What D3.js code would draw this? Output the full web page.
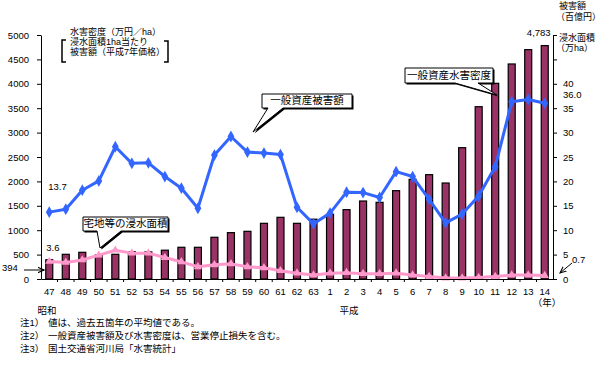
<!DOCTYPE html>
<html lang="ja">
<head>
<meta charset="UTF-8">
<title>水害密度・一般資産被害額・宅地等の浸水面積</title>
<script src="https://d3js.org/d3.v7.min.js"></script>
<style>
    body { margin: 0; background: #fff; }
    svg { font-family: "Liberation Sans", "Noto Sans CJK JP", sans-serif; font-size: 10px; }
    .axis path, .axis line { stroke: #000; }
    .axis text { font-size: 9.5px; fill: #000; }
</style>
</head>
<body>
<svg width="600" height="367"></svg>
<script>
// 年 (昭和47〜63, 平成1〜14)
const years = ["47","48","49","50","51","52","53","54","55","56","57","58","59","60","61","62","63",
               "1","2","3","4","5","6","7","8","9","10","11","12","13","14"];
// 一般資産水害密度 (万円/ha) - 棒
const density = [394,506,547,492,506,560,555,590,650,650,855,950,977,1141,1264,1141,1225,
                 1325,1421,1598,1571,1810,2042,2138,1967,2691,3531,4010,4406,4700,4783];
// 一般資産被害額 (百億円) - 青線
const damage = [13.7,14.3,18.2,20.1,27.1,23.7,23.8,21.0,18.6,14.5,25.4,29.2,26.0,25.8,25.5,14.7,11.3,
                13.5,17.8,17.7,16.7,22.0,21.0,16.3,11.5,13.3,17.0,23.0,36.3,36.8,36.0];
// 宅地等の浸水面積 (万ha) - ピンク線
const area = [3.6,3.4,3.9,4.9,5.9,5.3,5.3,4.4,3.5,2.5,2.9,3.1,2.5,2.3,1.7,1.2,0.8,
              1.2,1.3,1.1,1.1,1.2,0.8,0.5,0.2,0.2,0.3,0.5,0.8,0.8,0.7];
const leftTicks = d3.range(0, 5001, 500);
const rightTicks = d3.range(0, 51, 5);

const svg = d3.select("svg");
const plot = {left: 41, right: 553, top: 35, bottom: 279};

const x = d3.scaleBand().domain(years).range([plot.left, plot.right]);
const yL = d3.scaleLinear().domain([0, 5000]).range([plot.bottom, plot.top]);
const yR = d3.scaleLinear().domain([0, 50]).range([plot.bottom, plot.top]);
const cx = d => x(d) + x.bandwidth() / 2;

// 棒
svg.append("g").selectAll("rect")
    .data(density)
    .join("rect")
    .attr("x", (d, i) => cx(years[i]) - 3.5)
    .attr("y", d => yL(d))
    .attr("width", 7)
    .attr("height", d => yL(0) - yL(d))
    .attr("fill", "#993366")
    .attr("stroke", "#000")
    .attr("stroke-width", 1.2);

// 折れ線
function drawLine(values, color, symbol, size) {
    const line = d3.line()
        .x((d, i) => cx(years[i]))
        .y(d => yR(d));
    svg.append("path")
        .datum(values)
        .attr("d", line)
        .attr("fill", "none")
        .attr("stroke", color)
        .attr("stroke-width", 3)
        .attr("stroke-linejoin", "round");
    svg.append("g").selectAll("path")
        .data(values)
        .join("path")
        .attr("transform", (d, i) => `translate(${cx(years[i])},${yR(d)})`)
        .attr("d", d3.symbol().type(symbol).size(size))
        .attr("fill", color);
}
drawLine(area, "#ff99cc", d3.symbolTriangle, 30);
drawLine(damage, "#3366ff", d3.symbolDiamond, 40);

// 軸
svg.append("g")
    .attr("class", "axis")
    .attr("transform", `translate(${plot.left},0)`)
    .call(d3.axisLeft(yL).tickValues(leftTicks).tickSize(4).tickPadding(8).tickSizeOuter(0)
        .tickFormat(d3.format("d")));

svg.append("g")
    .attr("class", "axis")
    .attr("transform", `translate(${plot.right},0)`)
    .call(d3.axisRight(yR).tickValues(rightTicks).tickSize(4).tickPadding(6).tickSizeOuter(0)
        .tickFormat(d => d <= 40 ? d : ""));

const axB = svg.append("g")
    .attr("class", "axis")
    .attr("transform", `translate(0,${plot.bottom})`)
    .call(d3.axisBottom(x).tickSize(0).tickPadding(9));
axB.select(".domain").attr("stroke-width", 1.2);
// 区切りの小さな目盛
axB.selectAll(".sep")
    .data(years.slice(1))
    .join("line")
    .attr("class", "sep")
    .attr("x1", d => x(d)).attr("x2", d => x(d))
    .attr("y1", 0).attr("y2", 3)
    .attr("stroke", "#000");

// ラベル類
function txt(s, px, py, anchor, size) {
    return svg.append("text")
        .attr("x", px).attr("y", py)
        .attr("text-anchor", anchor || "start")
        .attr("dominant-baseline", "middle")
        .attr("font-size", (size || 9.5) + "px")
        .text(s);
}
txt("13.7", cx(years[0]) - 1, yR(damage[0]) - 25);
txt("3.6", cx(years[0]) - 3, yR(area[0]) - 13);
txt("394", 2, 268);
txt("36.0", 563, 95);
txt("0.7", 572, 260);
txt("4,783", cx(years[30]) - 6, 33, "middle");

// 矢印
svg.append("defs").append("marker")
    .attr("id", "arr").attr("viewBox", "0 0 10 10")
    .attr("refX", 9).attr("refY", 5)
    .attr("markerWidth", 7).attr("markerHeight", 7)
    .attr("orient", "auto")
    .append("path").attr("d", "M0,1L9,5L0,9").attr("fill", "none").attr("stroke", "#000").attr("stroke-width", 1.5);
svg.append("line").attr("x1", 24).attr("y1", 270).attr("x2", 44).attr("y2", 270)
    .attr("stroke", "#000").attr("marker-end", "url(#arr)");
svg.append("line").attr("x1", 572).attr("y1", 263).attr("x2", 560).attr("y2", 273)
    .attr("stroke", "#000").attr("marker-end", "url(#arr)");

// 凡例説明（左上）
txt("水害密度（万円／ha）", 70, 33, "start", 9);
txt("浸水面積1ha当たり", 70, 43, "start", 9);
txt("被害額（平成7年価格）", 70, 53, "start", 9);
svg.append("path").attr("d", "M66,40H62V62H66").attr("fill", "none").attr("stroke", "#000").attr("stroke-width", 1.5);
svg.append("path").attr("d", "M164,41H168V62H164").attr("fill", "none").attr("stroke", "#000").attr("stroke-width", 1.5);

// 右上の単位
txt("被害額", 559, 7, "start", 9);
txt("（百億円）", 556, 18, "start", 9);
txt("浸水面積", 559, 39, "start", 9);
txt("（万ha）", 556, 49, "start", 9);

// 吹き出し
function callout(label, bx, by, bw, bh, t1, t2, tip) {
    const d = `M${bx},${by}H${bx + bw}V${by + bh}H${t2}L${tip[0]},${tip[1]}L${t1},${by + bh}H${bx}Z`;
    svg.append("path").attr("d", d).attr("transform", "translate(1.5,1.5)").attr("fill", "#000");
    svg.append("path").attr("d", d).attr("fill", "#fff").attr("stroke", "#000").attr("stroke-width", 1);
    txt(label, bx + bw / 2, by + bh / 2 + 0.5, "middle", 10.5);
}
callout("宅地等の浸水面積", 83, 217, 85, 14, 97, 121, [100, 248]);
callout("一般資産被害額", 262, 94, 90, 14, 268, 283, [253, 132]);
callout("一般資産水害密度", 405, 68, 88, 15, 455, 478, [497, 95]);

// 元号・年
txt("昭和", 47, 311, "middle", 9.5);
txt("平成", 349, 311, "middle", 9.5);
txt("（年）", 547, 303, "middle", 9.5);

// 注
txt("注1）", 20, 323, "start", 9.5);
txt("値は、過去五箇年の平均値である。", 48, 323, "start", 9.5);
txt("注2）", 20, 336, "start", 9.5);
txt("一般資産被害額及び水害密度は、営業停止損失を含む。", 48, 336, "start", 9.5);
txt("注3）", 20, 349, "start", 9.5);
txt("国土交通省河川局「水害統計」", 48, 349, "start", 9.5);
</script>
</body>
</html>
